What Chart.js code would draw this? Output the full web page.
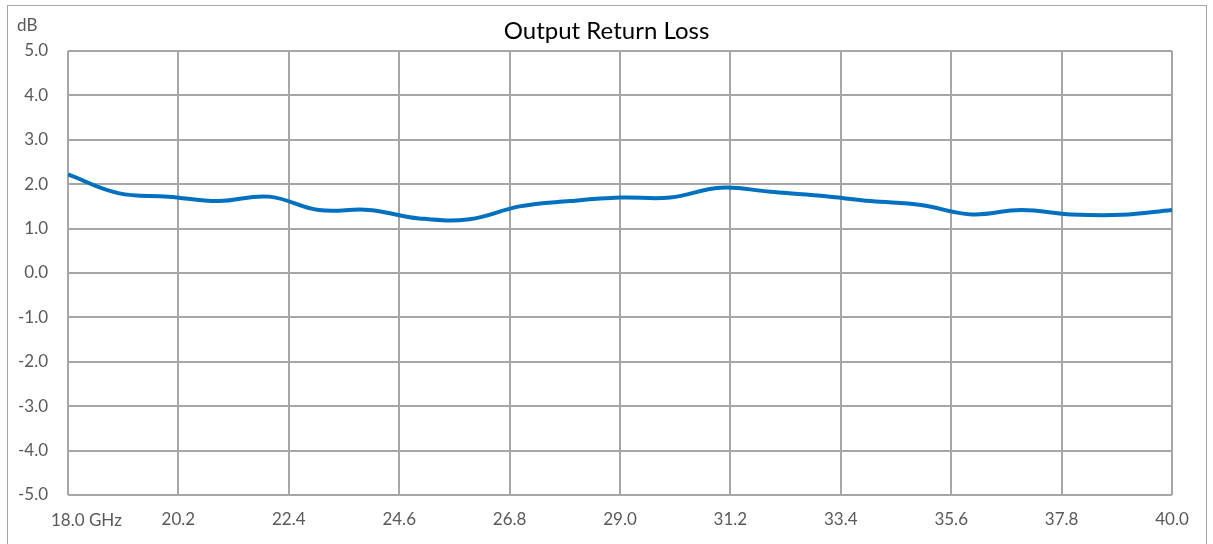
<!DOCTYPE html>
<html>
<head>
<meta charset="utf-8">
<script src="https://cdn.jsdelivr.net/npm/chart.js@4"></script>
<style>
    html, body { margin: 0; padding: 0; background: #fff; overflow: hidden; }
    #wrap { position: relative; width: 1213px; height: 544px; }
    #frame { position: absolute; left: 7px; top: 5px; width: 1200px; height: 600px; border: 1.5px solid #a6a6a6; box-sizing: border-box; }
    canvas { position: absolute; left: 0; top: 0; }
</style>
</head>
<body>
<div id="wrap">
    <div id="frame"></div>
    <canvas id="chart" width="1213" height="544"></canvas>
</div>
<script>
// Frequency points (GHz) and measured return loss (dB)
const freqs = [18, 19, 20, 21, 22, 23, 24, 25, 26, 27, 28, 29, 30, 31, 32, 33, 34, 35, 36, 37, 38, 39, 40];
const returnLoss = [2.22, 1.80, 1.72, 1.62, 1.72, 1.42, 1.42, 1.23, 1.21, 1.50, 1.62, 1.70, 1.70, 1.92, 1.83, 1.74, 1.62, 1.53, 1.32, 1.42, 1.32, 1.31, 1.42];

// Axis ticks
const xTicks = [18.0, 20.2, 22.4, 24.6, 26.8, 29.0, 31.2, 33.4, 35.6, 37.8, 40.0];
const xFirstLabel = '18.0 GHz';
const yMin = -5;
const yMax = 5;

const chartTitle = 'Output Return Loss';
const yUnit = 'dB';

const fontFamily = 'Lato, "Open Sans", sans-serif';
const gridColor = '#a6a6a6';
const tickColor = '#595959';

// Title, unit label and the first x label (Excel keeps it inside the frame)
const labelsPlugin = {
    id: 'labels',
    afterDraw(chart) {
        const ctx = chart.ctx;
        const xScale = chart.scales.x;
        ctx.save();
        ctx.fillStyle = '#000';
        ctx.font = '24px ' + fontFamily;
        ctx.textAlign = 'center';
        ctx.textBaseline = 'alphabetic';
        ctx.fillText(chartTitle, chart.width / 2, 39);

        ctx.fillStyle = tickColor;
        ctx.font = '17px ' + fontFamily;
        ctx.textAlign = 'left';
        ctx.fillText(yUnit, 17, 31);

        ctx.fillText(xFirstLabel, xScale.getPixelForValue(xTicks[0]) - 17, 526);
        ctx.restore();
    }
};

const ctx = document.getElementById('chart').getContext('2d');
new Chart(ctx, {
    type: 'line',
    data: {
        datasets: [{
            label: chartTitle,
            data: freqs.map((f, i) => ({ x: f, y: returnLoss[i] })),
            borderColor: '#0070c0',
            borderWidth: 4,
            pointRadius: 0,
            tension: 0.4,
            fill: false
        }]
    },
    options: {
        responsive: false,
        animation: false,
        layout: {
            padding: { left: 0, top: 51, right: 41, bottom: 0 }
        },
        plugins: {
            legend: { display: false },
            tooltip: { enabled: false }
        },
        scales: {
            x: {
                type: 'linear',
                min: 18,
                max: 40,
                afterBuildTicks: function(scale) {
                    scale.ticks = xTicks.map(v => ({ value: v }));
                },
                afterFit: function(scale) {
                    scale.height = 49;
                },
                border: { display: false },
                grid: {
                    color: gridColor,
                    lineWidth: 2,
                    drawTicks: false
                },
                ticks: {
                    color: tickColor,
                    font: { family: fontFamily, size: 17 },
                    padding: 14,
                    maxRotation: 0,
                    autoSkip: false,
                    callback: function(value, index) {
                        return index === 0 ? '' : value.toFixed(1);
                    }
                }
            },
            y: {
                min: yMin,
                max: yMax,
                afterFit: function(scale) {
                    scale.width = 68;
                },
                border: { display: false },
                grid: {
                    color: gridColor,
                    lineWidth: 2,
                    drawTicks: false
                },
                ticks: {
                    stepSize: 1,
                    color: tickColor,
                    font: { family: fontFamily, size: 17 },
                    padding: 20,
                    callback: function(value) {
                        return value.toFixed(1);
                    }
                }
            }
        }
    },
    plugins: [labelsPlugin]
});
</script>
</body>
</html>
